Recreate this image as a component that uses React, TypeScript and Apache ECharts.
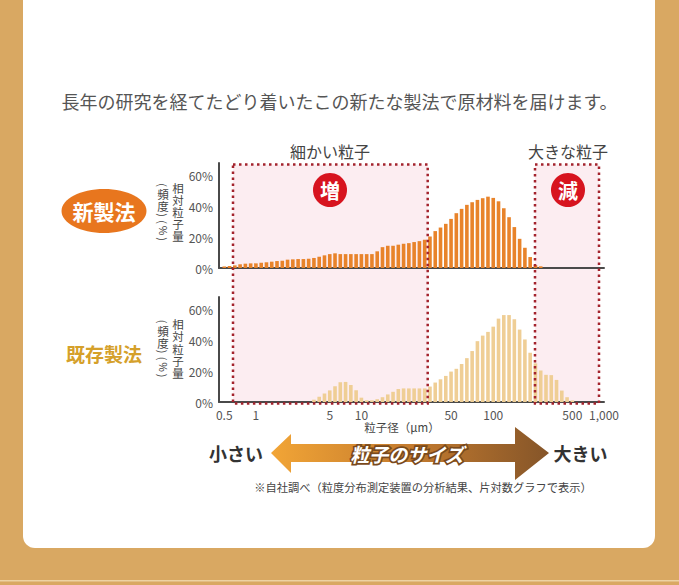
import React, { useEffect, useRef } from 'react';
import * as echarts from 'echarts';

// ---- data ----
const binCount = 74; // size classes (log-spaced) across the x axis, 0.5 – 1,000 µm
const xTickLabels = ['0.5', '1', '5', '10', '50', '100', '500', '1,000'];
const xTickBins = [1, 7, 21, 27, 44, 52, 67, 73];
const yTickValues = [0, 20, 40, 60];

// relative particle amount (%) per size class — new method
const newMethod = [
  0, 1.0, 1.3, 1.7, 2.4, 2.8, 3.0, 3.0, 3.4, 3.7, 4.1, 4.5, 4.7, 5.4, 5.6, 5.8, 5.8, 6.0, 6.5, 7.3,
  8.2, 9.0, 9.5, 9.0, 9.0, 9.0, 9.0, 9.0, 9.0, 9.0, 10.8, 13.5, 14.4, 14.4, 15.1, 15.7, 16.1, 16.8,
  17.4, 18.3, 20.4, 23.9, 26.2, 28.6, 31.8, 35.5, 38.3, 40.9, 42.6, 44.1, 45.2, 46.2, 45.4, 43.2,
  38.7, 32.9, 26.5, 18.9, 13.1, 7.1, 1.9, 1.1,
];

// relative particle amount (%) per size class — existing method
const oldMethod = [
  0, 0, 0, 0, 0, 0, 0, 0, 0, 0, 0, 0, 0, 0, 0, 0, 0, 0, 1.5, 3.4, 5.5, 7.5, 10.2, 12.8, 13.0, 11.0,
  7.6, 2.8, 1.1, 1.1, 1.8, 3.1, 4.9, 6.6, 8.4, 8.8, 8.8, 8.8, 8.8, 8.8, 10.0, 12.6, 14.7, 16.9,
  19.7, 21.5, 24.6, 28.4, 33.0, 39.4, 43.0, 45.4, 48.8, 54.0, 56.3, 56.3, 53.6, 46.9, 40.5, 31.9,
  25.0, 20.4, 17.6, 17.4, 14.3, 7.4, 3.1, 1.0,
];

const axisNameChars = ['相', '対', '粒', '子', '量'];

const FONT = "'Noto Sans CJK JP', 'Noto Sans', sans-serif";

export default function App() {
  const ref = useRef<HTMLDivElement>(null);

  useEffect(() => {
    if (!ref.current) return;
    const chart = echarts.init(ref.current, undefined, { renderer: 'svg' });
    const categories = Array.from({ length: binCount }, (_, k) => String(k));
    const labelFor = (_v: string, index: number) => {
      const j = xTickBins.indexOf(index);
      return j >= 0 ? xTickLabels[j] : '';
    };

    const yAxisBase = (gridIndex: number) => ({
      type: 'value',
      gridIndex,
      min: yTickValues[0],
      max: 68,
      interval: 20,
      z: 3,
      axisLine: { show: true, lineStyle: { color: '#4a4a4a', width: 2 } },
      axisTick: { show: false },
      splitLine: { show: false },
      axisLabel: {
        formatter: '{value}%',
        showMaxLabel: false,
        color: '#555',
        fontSize: 12,
        margin: 6,
        fontFamily: FONT,
      },
    });

    const txt = (x: number, y: number, text: string, extra: any = {}, rotation = 0) => ({
      type: 'text',
      x,
      y,
      rotation,
      z: 20,
      style: {
        text,
        fontFamily: FONT,
        textAlign: 'center',
        textVerticalAlign: 'middle',
        fill: '#444',
        fontSize: 12,
        ...extra,
      },
    });

    // vertical axis name columns: "相対粒子量" and "（頻度）（%）"
    const axisName = (cy: number) => {
      const d = cy - 212;
      const rot = -Math.PI / 2;
      return [
        ...axisNameChars.map((c, i) =>
          txt(178, 187.6 + i * 12.2 + d, c, { fontSize: 11.5, lineHeight: 11.5 })
        ),
        txt(163, 185 + d, '(', { fontSize: 11, lineHeight: 6 }, rot),
        txt(163, 194 + d, '頻', { fontSize: 11.5, lineHeight: 11.5 }),
        txt(163, 206 + d, '度', { fontSize: 11.5, lineHeight: 11.5 }),
        txt(163, 215 + d, ')', { fontSize: 11, lineHeight: 6 }, rot),
        txt(163, 222 + d, '(', { fontSize: 11, lineHeight: 6 }, rot),
        txt(163, 230.5 + d, '%', { fontSize: 10.5, lineHeight: 9 }, rot),
        txt(163, 239 + d, ')', { fontSize: 11, lineHeight: 6 }, rot),
      ];
    };

    const boxes = [
      { x: 233, y: 164.5, width: 194.7, height: 239 },
      { x: 535, y: 164.5, width: 64, height: 239 },
    ];

    const arrowPts = [
      [271, 453], [291, 434], [291, 444], [515, 444], [515, 427], [549, 453],
      [515, 480], [515, 462], [291, 462], [291, 473],
    ];

    chart.setOption({
      animation: false,
      backgroundColor: '#D9A862',
      textStyle: { fontFamily: FONT },
      grid: [
        { left: 219, top: 163, width: 385, height: 105 },
        { left: 219, top: 297, width: 385, height: 105 },
      ],
      xAxis: [
        {
          type: 'category',
          gridIndex: 0,
          data: categories,
          boundaryGap: false,
          z: 3,
          axisLine: { lineStyle: { color: '#4a4a4a', width: 2 } },
          axisTick: { show: false },
          axisLabel: { show: false },
        },
        {
          type: 'category',
          gridIndex: 1,
          data: categories,
          boundaryGap: false,
          z: 3,
          axisLine: { lineStyle: { color: '#4a4a4a', width: 2 } },
          axisTick: { show: false },
          axisLabel: {
            interval: 0,
            formatter: labelFor,
            color: '#555',
            fontSize: 12,
            margin: 6,
            fontFamily: FONT,
          },
        },
      ],
      yAxis: [yAxisBase(0), yAxisBase(1)],
      series: [
        {
          type: 'bar',
          xAxisIndex: 0,
          yAxisIndex: 0,
          data: newMethod,
          barWidth: 3.6,
          z: 4,
          itemStyle: { color: '#E8832A' },
        },
        {
          type: 'bar',
          xAxisIndex: 1,
          yAxisIndex: 1,
          data: oldMethod,
          barWidth: 3.6,
          z: 4,
          itemStyle: { color: '#EFCE95' },
        },
      ],
      graphic: [
        // white card
        {
          type: 'rect',
          z: 0,
          shape: { x: 23, y: -20, width: 632, height: 568, r: 12 },
          style: { fill: '#ffffff' },
        },
        {
          type: 'rect',
          z: 0,
          shape: { x: 0, y: 580, width: 679, height: 1.5 },
          style: { fill: '#EDD2A3' },
        },
        // pink highlight areas
        ...boxes.map((b) => ({
          type: 'rect',
          z: 1,
          shape: b,
          style: { fill: '#FCEDF1' },
        })),
        ...boxes.map((b) => ({
          type: 'rect',
          z: 10,
          shape: b,
          style: { fill: 'none', stroke: '#A3232D', lineWidth: 2.5, lineDash: [2.5, 3.5] },
        })),
        // badges
        { type: 'circle', z: 15, shape: { cx: 330, cy: 190, r: 17 }, style: { fill: '#D7141F' } },
        { type: 'circle', z: 15, shape: { cx: 568, cy: 190, r: 17 }, style: { fill: '#D7141F' } },
        txt(330, 190, '増', { fill: '#fff', fontSize: 20, fontWeight: 'bold' }),
        txt(568, 190, '減', { fill: '#fff', fontSize: 20, fontWeight: 'bold' }),
        txt(330, 151, '細かい粒子', { fontSize: 16, fill: '#444' }),
        txt(568, 151, '大きな粒子', { fontSize: 16, fill: '#444' }),
        // heading
        txt(339.5, 101, '長年の研究を経てたどり着いたこの新たな製法で原材料を届けます。', {
          fontSize: 18,
          fill: '#555',
        }),
        // series labels
        { type: 'ellipse', z: 15, shape: { cx: 104, cy: 211, rx: 42.5, ry: 22 }, style: { fill: '#E8761E' } },
        txt(104, 211, '新製法', { fill: '#fff', fontSize: 21, fontWeight: 'bold' }),
        txt(104, 353, '既存製法', { fill: '#D5A02A', fontSize: 19, fontWeight: 'bold' }),
        // y axis names (vertical)
        ...axisName(212),
        ...axisName(348.5),
        // x axis name
        txt(402, 427, '粒子径（μm）', { fontSize: 11.5, fill: '#444' }),
        // size arrow
        {
          type: 'polygon',
          z: 15,
          shape: { points: arrowPts },
          style: {
            fill: new echarts.graphic.LinearGradient(0, 0, 1, 0, [
              { offset: 0, color: '#F2A536' },
              { offset: 0.5, color: '#C47B2E' },
              { offset: 1, color: '#855529' },
            ]),
          },
        },
        txt(407, 453, '粒子のサイズ', {
          fontSize: 19,
          fontWeight: 'bold',
          fontStyle: 'italic',
          fill: '#7A4A1C',
          stroke: '#7A4A1C',
          lineWidth: 3.5,
        }),
        txt(407, 453, '粒子のサイズ', {
          fontSize: 19,
          fontWeight: 'bold',
          fontStyle: 'italic',
          fill: '#ffffff',
        }),
        txt(236, 453, '小さい', { fontSize: 18, fontWeight: 'bold', fill: '#333' }),
        txt(580.5, 453, '大きい', { fontSize: 18, fontWeight: 'bold', fill: '#333' }),
        // footnote
        txt(423, 486.5, '※自社調べ（粒度分布測定装置の分析結果、片対数グラフで表示）', {
          fontSize: 11.25,
          fill: '#444',
        }),
      ],
    });

    return () => chart.dispose();
  }, []);

  return (
    <div
      ref={ref}
      style={{ position: 'fixed', left: 0, top: 0, width: 679, height: 585 }}
    />
  );
}
